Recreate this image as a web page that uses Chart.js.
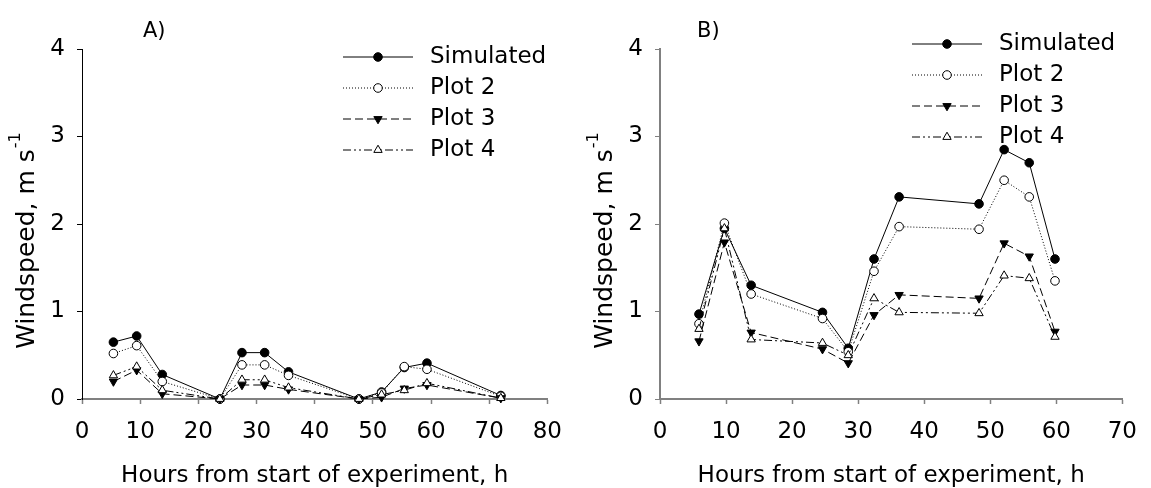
<!DOCTYPE html>
<html>
<head>
<meta charset="utf-8">
<script src="https://cdn.jsdelivr.net/npm/chart.js@4/dist/chart.umd.min.js"></script>
<style>
  html, body { margin: 0; padding: 0; background: #fff; }
  #wrap { position: relative; width: 1151px; height: 488px; }
  .box { position: absolute; top: 0; height: 488px; }
</style>
</head>
<body>
<div id="wrap">
  <div class="box" style="left:0;width:576px"><canvas id="chartA" width="576" height="488"></canvas></div>
  <div class="box" style="left:576px;width:575px"><canvas id="chartB" width="575" height="488"></canvas></div>
</div>
<script>
const SERIES_NAMES = ['Simulated', 'Plot 2', 'Plot 3', 'Plot 4'];
const Y_TITLE = 'Windspeed, m s';
const Y_TITLE_SUP = '-1';
const X_TITLE = 'Hours from start of experiment, h';

// Panel A
const hoursA     = [5.4, 9.4, 13.8, 23.7, 27.5, 31.4, 35.5, 47.6, 51.5, 55.4, 59.3, 72.0];
const simulatedA = [0.65, 0.72, 0.28, 0.00, 0.53, 0.53, 0.31, 0.00, 0.08, 0.36, 0.41, 0.04];
const plot2A     = [0.52, 0.61, 0.20, 0.00, 0.39, 0.39, 0.27, 0.00, 0.07, 0.37, 0.34, 0.03];
const plot3A     = [0.20, 0.33, 0.06, 0.00, 0.16, 0.16, 0.11, 0.00, 0.02, 0.12, 0.16, 0.01];
const plot4A     = [0.27, 0.37, 0.10, 0.00, 0.22, 0.22, 0.13, 0.00, 0.05, 0.10, 0.18, 0.01];

// Panel B
const hoursB     = [5.9, 9.75, 13.8, 24.6, 28.5, 32.4, 36.2, 48.3, 52.1, 55.9, 59.8];
const simulatedB = [0.97, 1.95, 1.30, 0.99, 0.58, 1.60, 2.31, 2.23, 2.85, 2.70, 1.60];
const plot2B     = [0.86, 2.01, 1.20, 0.92, 0.54, 1.46, 1.97, 1.94, 2.50, 2.31, 1.35];
const plot3B     = [0.66, 1.79, 0.76, 0.57, 0.41, 0.96, 1.19, 1.15, 1.78, 1.63, 0.77];
const plot4B     = [0.80, 1.95, 0.68, 0.64, 0.50, 1.15, 0.99, 0.98, 1.41, 1.38, 0.71];

const Y_MAX = 4;
const X_MAX_A = 80;
const X_MAX_B = 70;

Chart.defaults.font.family = '"DejaVu Sans", Verdana, sans-serif';
Chart.defaults.color = '#000';

// line / marker look of each series
const STYLES = [
  { dash: [],                 shape: 'circle',   fill: '#000', rot: 0,   r: 4.3 },
  { dash: [1, 2],             shape: 'circle',   fill: '#fff', rot: 0,   r: 4.3 },
  { dash: [8, 4],             shape: 'triangle', fill: '#000', rot: 180, r: 4.8 },
  { dash: [8, 3, 2, 3, 2, 3], shape: 'triangle', fill: '#fff', rot: 0,   r: 4.8 }
];

function makeDatasets(hours, seriesList) {
  return seriesList.map((values, i) => {
    const st = STYLES[i];
    return {
      label: SERIES_NAMES[i],
      data: hours.map((h, k) => ({ x: h, y: values[k] })),
      borderColor: '#000',
      borderWidth: 1,
      borderDash: st.dash,
      pointStyle: st.shape,
      pointRotation: st.rot,
      pointRadius: st.r,
      pointBorderWidth: 1,
      pointBorderColor: '#000',
      pointBackgroundColor: st.fill,
      tension: 0,
      clip: false,
      order: 3 - i
    };
  });
}

// legend with line sample + marker, like the original figure
const lineLegend = {
  id: 'lineLegend',
  afterDraw(chart, args, opts) {
    const ctx = chart.ctx;
    ctx.save();
    chart.data.datasets.forEach((ds, i) => {
      const y = opts.top + i * opts.gap;
      ctx.strokeStyle = '#000';
      ctx.lineWidth = 1;
      ctx.setLineDash(ds.borderDash);
      ctx.beginPath();
      ctx.moveTo(opts.x, y);
      ctx.lineTo(opts.x + 70, y);
      ctx.stroke();
      ctx.setLineDash([]);
      ctx.fillStyle = ds.pointBackgroundColor;
      Chart.helpers.drawPoint(ctx, {
        pointStyle: ds.pointStyle,
        rotation: ds.pointRotation,
        radius: ds.pointRadius,
        borderWidth: 1
      }, opts.x + 35, y);
      ctx.fillStyle = '#000';
      ctx.font = '23px "DejaVu Sans", Verdana, sans-serif';
      ctx.textBaseline = 'middle';
      ctx.textAlign = 'left';
      ctx.fillText(ds.label, opts.x + 87, y);
    });
    ctx.restore();
  }
};

// rotated y title with superscript, and the panel letter
const decorations = {
  id: 'decorations',
  afterDraw(chart, args, opts) {
    const ctx = chart.ctx;
    ctx.save();
    ctx.fillStyle = '#000';
    ctx.font = '21px "DejaVu Sans", Verdana, sans-serif';
    ctx.textBaseline = 'alphabetic';
    ctx.textAlign = 'left';
    ctx.fillText(opts.panel, opts.panelX, 37);

    ctx.translate(opts.titleX, 241);
    ctx.rotate(-Math.PI / 2);
    ctx.font = '25px "DejaVu Sans", Verdana, sans-serif';
    const w1 = ctx.measureText(Y_TITLE).width;
    ctx.font = '16px "DejaVu Sans", Verdana, sans-serif';
    const w2 = ctx.measureText(Y_TITLE_SUP).width;
    const start = -(w1 + w2) / 2;
    ctx.font = '25px "DejaVu Sans", Verdana, sans-serif';
    ctx.fillText(Y_TITLE, start, 9);
    ctx.font = '16px "DejaVu Sans", Verdana, sans-serif';
    ctx.fillText(Y_TITLE_SUP, start + w1 + 1, -5);
    ctx.restore();
  }
};

function makeChart(id, hours, seriesList, xMax, cfg) {
  return new Chart(document.getElementById(id), {
    type: 'line',
    data: { datasets: makeDatasets(hours, seriesList) },
    plugins: [lineLegend, decorations],
    options: {
      responsive: false,
      animation: false,
      layout: { padding: { top: 49, right: cfg.padRight, left: 0, bottom: 0 } },
      plugins: {
        legend: { display: false },
        tooltip: { enabled: false },
        lineLegend: cfg.legend,
        decorations: cfg.deco
      },
      scales: {
        x: {
          type: 'linear',
          min: 0,
          max: xMax,
          afterFit: s => { s.height = 89; },
          border: { color: '#808080', width: 2 },
          grid: { drawOnChartArea: false, tickLength: 5, tickColor: '#808080', tickWidth: 1.5 },
          ticks: { stepSize: 10, padding: 14, font: { size: 23 }, color: '#000' },
          title: {
            display: true,
            text: X_TITLE,
            font: { size: 23, lineHeight: 1 },
            padding: { top: 0, bottom: 0 },
            color: '#000'
          }
        },
        y: {
          min: 0,
          max: Y_MAX,
          afterFit: s => { s.width = cfg.yWidth; },
          border: { color: cfg.yColor, width: cfg.yBorder },
          grid: { drawOnChartArea: false, tickLength: 5, tickColor: cfg.yColor, tickWidth: 1 },
          ticks: { stepSize: 1, padding: 12, font: { size: 23 }, color: '#000' }
        }
      }
    }
  });
}

makeChart('chartA', hoursA, [simulatedA, plot2A, plot3A, plot4A], X_MAX_A, {
  padRight: 19,
  yWidth: 82,
  yColor: '#000',
  yBorder: 1,
  legend: { x: 343, top: 57, gap: 31 },
  deco: { panel: 'A)', panelX: 143, titleX: 25 }
});

makeChart('chartB', hoursB, [simulatedB, plot2B, plot3B, plot4B], X_MAX_B, {
  padRight: 17,
  yWidth: 84,
  yColor: '#808080',
  yBorder: 2,
  legend: { x: 336, top: 44, gap: 31 },
  deco: { panel: 'B)', panelX: 121, titleX: 27 }
});
</script>
</body>
</html>
